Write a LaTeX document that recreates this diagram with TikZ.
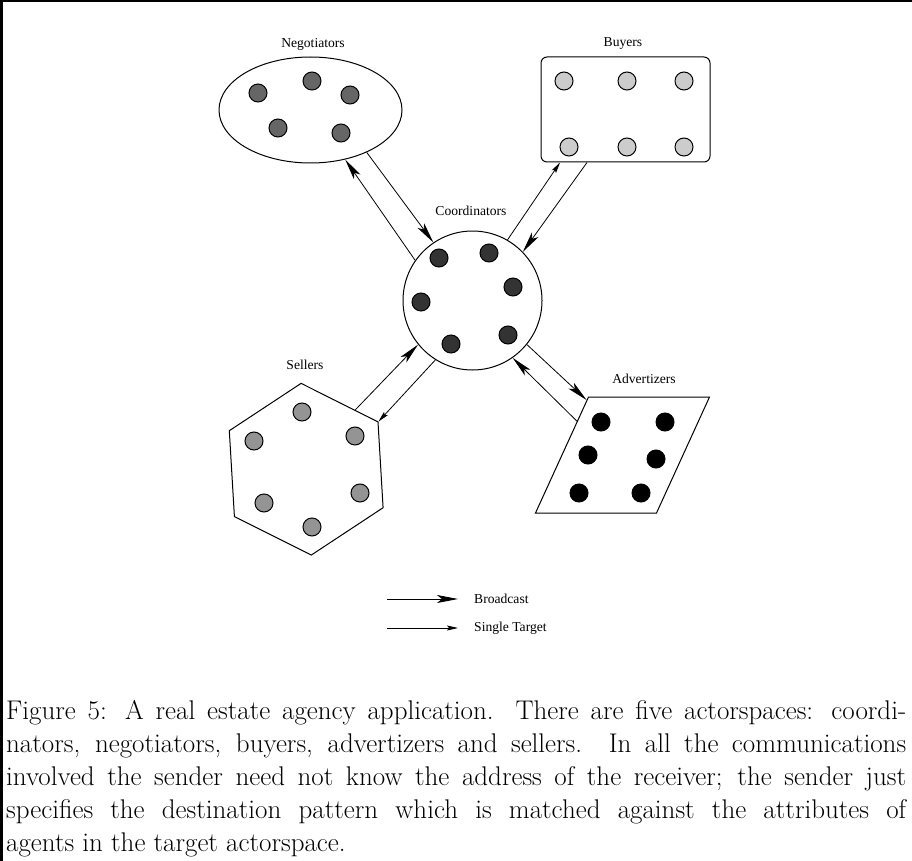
\documentclass[tikz,border=0pt]{standalone}
\usepackage{fontspec}
\usetikzlibrary{arrows.meta,shapes.geometric}
\newfontfamily\figfont{Liberation Serif}
\newcommand{\lblfont}{\figfont\fontsize{13.6}{16}\selectfont}
\newcommand{\capfont}{\fontsize{27}{33}\selectfont}
\tikzset{
  actsp/.style={draw,line width=1pt,inner sep=0pt},
  agent/.style={circle,draw,line width=1pt,minimum size=18pt,inner sep=0pt},
  bcast/.style={-{Stealth[length=21pt,width=8pt,inset=5pt]},line width=0.8pt},
  onearrow/.style={-{Stealth[length=11pt,width=5pt,inset=2pt]},line width=0.8pt},
  lbl/.style={font=\lblfont,inner sep=0pt}
}

\begin{document}
\begin{tikzpicture}[x=1pt,y=-1pt]
\useasboundingbox (0,0) rectangle (912,861);
\draw[line width=2.5pt] (0,1.25) -- (912,1.25);
\draw[line width=2.5pt] (1.25,0) -- (1.25,861);
% actorspaces
\node[actsp,ellipse,minimum width=183pt,minimum height=106pt] (neg) at (310.5,110) {};
\node[actsp,rectangle,rounded corners=6pt,minimum width=169pt,minimum height=105pt] (buy) at (625.5,109.5) {};
\node[actsp,circle,minimum size=139pt] (coord) at (472.5,300.5) {};
\node[actsp,regular polygon,regular polygon sides=6,minimum size=172pt,rotate=33.4] (sell) at (306.2,469.2) {};
\node[actsp,rectangle,xslant=0.457,minimum width=121pt,minimum height=116pt] (adv) at (622.5,455) {};
\node[lbl] (negl) at (313,44) {Negotiators};
\node[lbl] (buyl) at (623,44) {Buyers};
\node[lbl] (coordl) at (471,211) {Coordinators};
\node[lbl] (selll) at (305,365) {Sellers};
\node[lbl] (advl) at (644,379) {Advertizers};
% agents
\node[agent,fill=black!60] (n1) at (258,93) {};\node[agent,fill=black!60] (n2) at (312,81) {};\node[agent,fill=black!60] (n3) at (350,95) {};\node[agent,fill=black!60] (n4) at (278,128) {};\node[agent,fill=black!60] (n5) at (341,133) {};
\node[agent,fill=black!20] (b1) at (564,81) {};\node[agent,fill=black!20] (b2) at (627,81) {};\node[agent,fill=black!20] (b3) at (684,81) {};\node[agent,fill=black!20] (b4) at (569,147) {};\node[agent,fill=black!20] (b5) at (627,147) {};\node[agent,fill=black!20] (b6) at (684,147) {};
\node[agent,fill=black!80] (c1) at (439,258) {};\node[agent,fill=black!80] (c2) at (489,253) {};\node[agent,fill=black!80] (c3) at (513,287) {};\node[agent,fill=black!80] (c4) at (421,302) {};\node[agent,fill=black!80] (c5) at (508,335) {};\node[agent,fill=black!80] (c6) at (451,344) {};
\node[agent,fill=black!42] (s1) at (302,412) {};\node[agent,fill=black!42] (s2) at (254,441) {};\node[agent,fill=black!42] (s3) at (355,436) {};\node[agent,fill=black!42] (s4) at (264,503) {};\node[agent,fill=black!42] (s5) at (360,493) {};\node[agent,fill=black!42] (s6) at (312,527) {};
\node[agent,fill=black] (a1) at (601,422) {};\node[agent,fill=black] (a2) at (665,422) {};\node[agent,fill=black] (a3) at (588,455) {};\node[agent,fill=black] (a4) at (656,459) {};\node[agent,fill=black] (a5) at (579,493) {};\node[agent,fill=black] (a6) at (641,493) {};
% messages
\draw[bcast] (coord.145) -- (neg.-55);
\draw[bcast] (neg.-37) -- (coord.124);
\draw[onearrow] (coord.60) -- (buy.219);
\draw[bcast] (buy.234) -- (coord.44);
\draw[bcast] (sell.17) -- (coord.219);
\draw[onearrow] (coord.238) -- (sell.0);
\draw[bcast] (coord.321) -- (adv.138);
\draw[bcast] (adv.151) -- (coord.305);
% legend
\coordinate (bs) at (387,599);\coordinate (be) at (458,599);
\coordinate (ss) at (387,628);\coordinate (se) at (458,628);
\draw[bcast] (bs) -- (be);
\draw[onearrow] (ss) -- (se);
\node[lbl,anchor=west] (bl) at (474,599) {Broadcast};
\node[lbl,anchor=west] (sl) at (474,628) {Single Target};
% caption
\node[anchor=base west,text width=900pt,inner sep=0pt,font=\capfont,align=justify] (cap) at (6,719) {Figure 5: A real estate agency application. There are five actorspaces: coordi-\linebreak nators, negotiators, buyers, advertizers and sellers. In all the communications\linebreak involved the sender need not know the address of the receiver; the sender just\linebreak specifies the destination pattern which is matched against the attributes of\linebreak agents in the target actorspace.};
\end{tikzpicture}
\end{document}
